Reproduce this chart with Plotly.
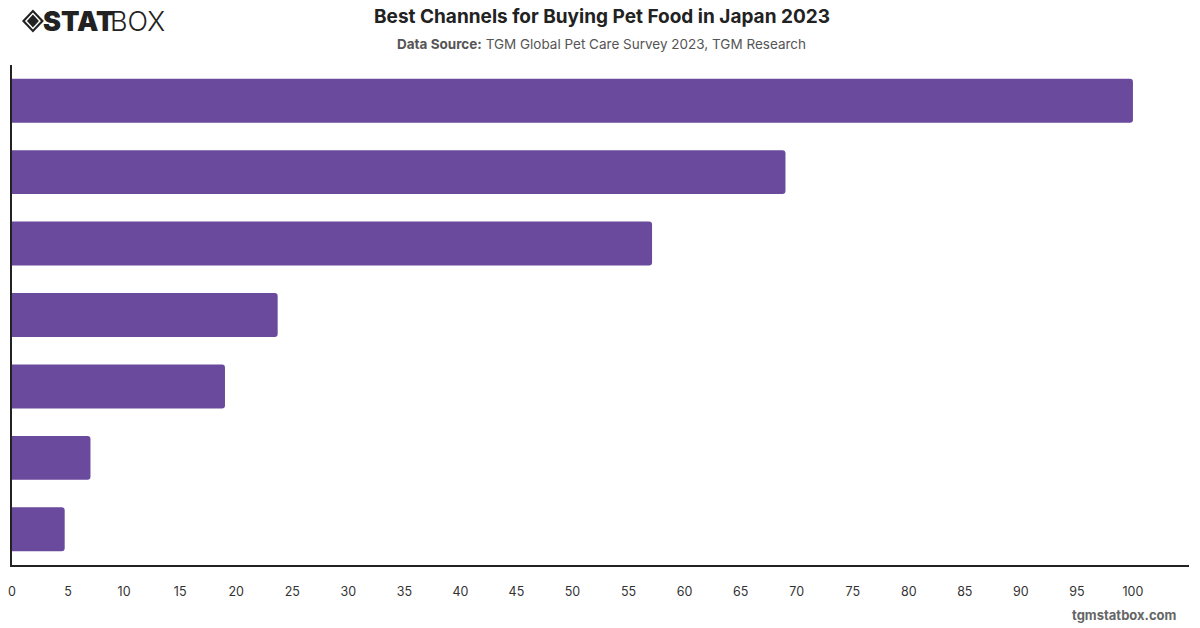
import plotly.graph_objects as go

channels = ["Supermarket", "Online marketplace", "Pet store", "Drugstore",
            "Home center", "Veterinary clinic", "Convenience store"]
scores = [100, 69.0, 57.1, 23.7, 19.0, 7.0, 4.7]
x_ticks = list(range(0, 105, 5))

BAR = "#6a4a9c"
W, H = 1200, 628
ml, mr, mt, mb = 8, 11, 65, 63
pw, ph = W - ml - mr, H - mt - mb


def px(x):
    return (x - ml) / pw


def py(y):
    return (H - mb - y) / ph


fig = go.Figure(go.Bar(
    x=scores, y=channels, orientation="h",
    marker=dict(color=BAR, line=dict(width=0)),
    hoverinfo="x+y",
))


def ann(text, x, y, size, color, anchor="center", weight=None):
    f = dict(size=size, color=color)
    if weight:
        f["weight"] = weight
    return dict(text=text, x=px(x), y=py(y), xref="paper", yref="paper",
                showarrow=False, xanchor=anchor, yanchor="middle", font=f)


def diamond(cx, cy, rx, ry, color):
    pts = [(cx, cy - ry), (cx + rx, cy), (cx, cy + ry), (cx - rx, cy)]
    path = "M " + " L ".join(f"{px(a):.5f},{py(b):.5f}" for a, b in pts) + " Z"
    return dict(type="path", path=path, xref="paper", yref="paper",
                fillcolor=color, line=dict(width=0), layer="above")


fig.update_layout(
    width=W, height=H,
    margin=dict(l=ml, r=mr, t=mt, b=mb),
    paper_bgcolor="white", plot_bgcolor="white",
    bargap=0.385, barcornerradius=3,
    showlegend=False,
    font=dict(family="Inter, Roboto, sans-serif", color="#333"),
    xaxis=dict(range=[0, 105], tickvals=x_ticks, showgrid=False, zeroline=False,
               showline=True, linecolor="#222", linewidth=1.5,
               ticks="", ticklabelstandoff=14,
               tickfont=dict(size=12.5, color="#333")),
    yaxis=dict(autorange="reversed", showticklabels=False, showgrid=False,
               zeroline=False, showline=True, linecolor="#222", linewidth=1.5,
               ticks=""),
    annotations=[
        ann("<b>Best Channels for Buying Pet Food in Japan 2023</b>", 600, 17, 19, "#222"),
        ann("<b>Data Source:</b> TGM Global Pet Care Survey 2023, TGM Research",
            600, 44, 13.5, "#555"),
        ann("<b>tgmstatbox.com</b>", 1179, 615, 13, "#666", anchor="right"),
        ann("STAT", 37, 22, 27, "#222", anchor="left", weight=900),
        ann("BOX", 104, 22, 27, "#222", anchor="left", weight=300),
    ],
    shapes=[
        diamond(29, 21, 11, 11.5, "#222"),
        diamond(29, 21, 8, 8.5, "white"),
        diamond(29, 21, 6, 6.5, "#222"),
    ],
)

fig.write_html("out.html")
